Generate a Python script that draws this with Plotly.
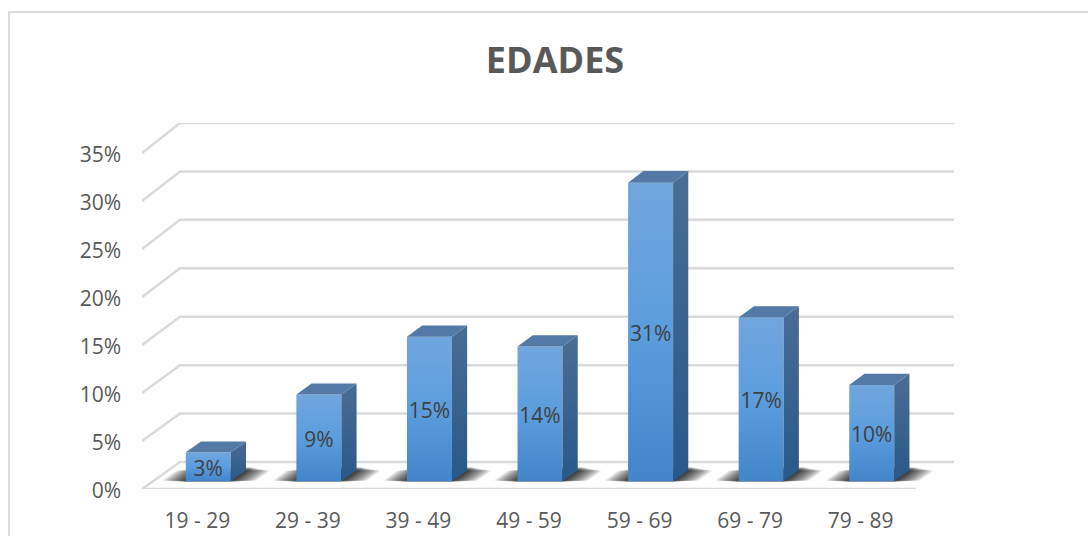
import plotly.graph_objects as go

categories = ["19 - 29", "29 - 39", "39 - 49", "49 - 59", "59 - 69", "69 - 79", "79 - 89"]
values = [3, 9, 15, 14, 31, 17, 10]
y_ticks = [0, 5, 10, 15, 20, 25, 30, 35]

# pixel geometry of the 3D-looking frame
L, R, T, B = 142, 954, 123, 489
W, H = 1088, 536
DEPTH_PX_X, DEPTH_PX_Y = 38, 27
SLOT_PX = (R - DEPTH_PX_X - L) / len(categories)
PX_PER_PCT = 9.6
BACK_STRETCH = 0.009
DX = DEPTH_PX_X / SLOT_PX
DY = DEPTH_PX_Y / PX_PER_PCT
BAR_W = 45 / SLOT_PX
T0, T1 = 0.29, 0.69
GRID = "#DADADA"
TEXT = "#595959"
FONT = "Open Sans, sans-serif"
LABEL_NUDGE = 0.38


def pt(x, v, t):
    return x + t * DX, v * (1 + t * BACK_STRETCH) + t * DY


def poly(pts, **kw):
    xs = [p[0] for p in pts] + [pts[0][0]]
    ys = [p[1] for p in pts] + [pts[0][1]]
    return go.Scatter(x=xs, y=ys, mode="lines", fill="toself", line=dict(width=0),
                      hoverinfo="skip", showlegend=False, **kw)


fig = go.Figure()

# gridlines: slanted wall edge + back wall line
for v in y_ticks:
    a = pt(-0.5, v, 0)
    b = pt(-0.5, v, 1)
    c = pt(len(categories) - 0.5, v, 1)
    fig.add_trace(go.Scatter(x=[a[0], b[0], c[0]], y=[a[1], b[1], c[1]], mode="lines",
                             line=dict(color=GRID, width=2.5), hoverinfo="skip", showlegend=False))
# floor front edge
fig.add_trace(go.Scatter(x=[-0.5, len(categories) - 0.5], y=[0, 0], mode="lines",
                         line=dict(color=GRID, width=2.5), hoverinfo="skip", showlegend=False))

# soft floor shadows
SHADOW_SPREADS = [0.22, 0.20, 0.18, 0.16, 0.14, 0.12, 0.10, 0.08, 0.065, 0.05, 0.035, 0.02, 0.01]
for i in range(len(categories)):
    for e in SHADOW_SPREADS:
        x0, x1 = i - BAR_W / 2 - e, i + BAR_W / 2 + e
        t_bot = T0 - 0.03 + e * 0.25
        t_top = T1 + 0.12 - e * 0.6
        fig.add_trace(poly([pt(x0, 0, t_bot), pt(x1, 0, t_bot),
                            pt(x1, 0, t_top), pt(x0, 0, t_top)],
                           fillcolor="rgba(0,0,0,0.10)"))

# bars
for i, v in enumerate(values):
    x0, x1 = i - BAR_W / 2, i + BAR_W / 2
    fig.add_trace(poly([pt(x0, 0, T0), pt(x1, 0, T0), pt(x1, v, T0), pt(x0, v, T0)],
                       fillgradient=dict(type="vertical",
                                         colorscale=[[0, "#4285C9"], [0.5, "#5B9DDD"], [1, "#71A6DE"]])))
    fig.add_trace(poly([pt(x1, 0, T0), pt(x1, 0, T1), pt(x1, v, T1), pt(x1, v, T0)],
                       fillgradient=dict(type="vertical",
                                         colorscale=[[0, "#28588A"], [1, "#4A6D94"]])))
    fig.add_trace(poly([pt(x0, v, T0), pt(x1, v, T0), pt(x1, v, T1), pt(x0, v, T1)],
                       fillcolor="#537AA6"))

# data labels
fig.add_trace(go.Scatter(
    x=[pt(i, 0, T0)[0] for i in range(len(values))],
    y=[v / 2 + T0 * DY - LABEL_NUDGE for v in values],
    mode="text", text=[f"{v}%" for v in values], textposition="middle center",
    textfont=dict(family=FONT, size=21, color="#404040"),
    cliponaxis=False, hoverinfo="skip", showlegend=False))

px = lambda p: (p - L) / (R - L)
py = lambda p: (B - p) / (B - T)
fig.update_layout(
    width=W, height=H, autosize=False,
    margin=dict(l=L, r=W - R, t=T, b=H - B, pad=0),
    paper_bgcolor="white", plot_bgcolor="white", showlegend=False,
    title=dict(text="<b>EDADES</b>", x=555 / W, xanchor="center", xref="container",
               y=1 - 60 / H, yanchor="middle", yref="container",
               font=dict(family=FONT, size=36, color=TEXT)),
    xaxis=dict(range=[-0.5, len(categories) - 0.5 + DX], tickmode="array", automargin=False,
               tickvals=list(range(len(categories))), ticktext=categories,
               showgrid=False, zeroline=False, showline=False, ticks="",
               ticklabelstandoff=17, tickfont=dict(family=FONT, size=21, color=TEXT)),
    yaxis=dict(range=[0, (B - T) / PX_PER_PCT], tickmode="array", tickvals=y_ticks, automargin=False,
               ticktext=[f"{v}%" for v in y_ticks],
               showgrid=False, zeroline=False, showline=False, ticks="",
               ticklabelstandoff=20, ticklabelshift=2,
               tickfont=dict(family=FONT, size=21, color=TEXT)),
    shapes=[dict(type="path", xref="paper", yref="paper", layer="below",
                 path=f"M {px(9)} {py(H + 5)} L {px(9)} {py(12)} L {px(W + 5)} {py(12)}",
                 line=dict(color=GRID, width=2))],
)

fig.write_html("out.html", config={"displayModeBar": False},
               post_script="document.body.style.margin='0';")
